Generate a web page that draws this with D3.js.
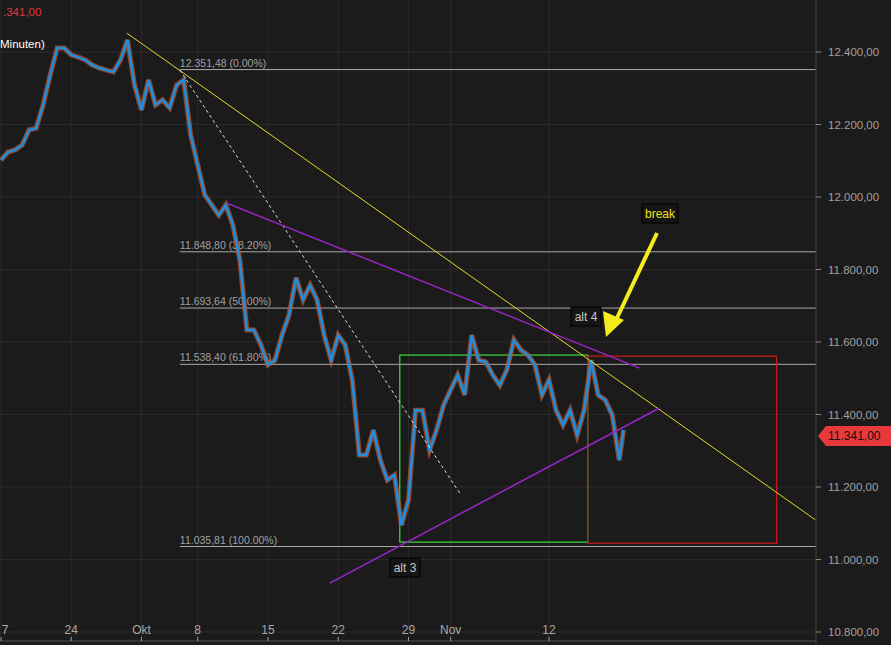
<!DOCTYPE html><html><head><meta charset="utf-8">
<script src="https://cdn.jsdelivr.net/npm/d3@7"></script>
<style>body{margin:0;background:#1c1b1b}svg{display:block}text{font-family:"Liberation Sans",Arial,sans-serif}</style>
</head><body><svg width="891" height="645"></svg>
<script>
const dayIndex=[0,0.5,1,1.5,2,2.5,3,3.5,4,4.5,5,5.5,6,6.5,7,7.5,8,8.5,9,9.5,10,10.5,11,11.5,12,12.5,13,13.5,14,14.5,15,15.5,16,16.5,17,17.5,18,18.5,19,19.5,20,20.5,21,21.5,22,22.5,23,23.5,24,24.5,25,25.5,26,26.5,27,27.5,28,28.5,29,29.5,30,30.5,31,31.5,32,32.5,33,33.5,34,34.5,35,35.5,36,36.5,37,37.5,38,38.5,39,39.5,40,40.5,41,41.5,42,42.5,43,43.5,44,44.3];
const close=[12102,12124,12130,12143,12185,12190,12254,12337,12411,12411,12392,12386,12378,12364,12356,12350,12345,12378,12433,12309,12240,12323,12254,12268,12246,12309,12323,12171,12088,12006,11978,11950,11978,11923,11826,11633,11633,11592,11537,11550,11619,11675,11777,11716,11757,11716,11619,11550,11619,11592,11495,11288,11288,11357,11274,11219,11233,11095,11164,11412,11412,11302,11357,11426,11468,11509,11454,11619,11550,11545,11509,11481,11523,11606,11578,11564,11537,11454,11495,11412,11371,11412,11343,11412,11550,11454,11440,11399,11274,11357];
const yTicks=[10800,11000,11200,11400,11600,11800,12000,12200,12400];
const xTickDays=[0,5,10,14,19,24,29,32,39];
const xTickLabels=["7","24","Okt","8","15","22","29","Nov","12"];
const fibValues=[12351.48,11848.80,11693.64,11538.40,11035.81];
const fibLabels=["12.351,48 (0.00%)","11.848,80 (38.20%)","11.693,64 (50.00%)","11.538,40 (61.80%)","11.035,81 (100.00%)"];
const fibStart=12.73;
const yellowLine=[[8.96,12452],[57.97,11109]];
const dashedLine=[[12.73,12350],[32.65,11183]];
const purpleUpper=[[16.07,11983],[45.45,11528]];
const purpleLower=[[23.40,10935],[46.87,11418]];
const greenRect=[28.38,41.75,11564,11048];
const redRect=[41.75,55.2,11561,11045];
const lastPrice=11341;

const svg=d3.select("svg");
const x=d3.scaleLinear().domain([0,39]).range([1,549]);
const y=d3.scaleLinear().domain([10800,12400]).range([632,52]);
const fmt=v=>d3.format(",.2f")(v).replace(/,/g,"#").replace(".",",").replace(/#/g,".");
const R=816;
svg.append("g").selectAll("line").data(yTicks).join("line").attr("x1",0).attr("x2",R).attr("y1",d=>y(d)).attr("y2",d=>y(d)).attr("stroke","#2a2929");
svg.append("g").selectAll("line").data(xTickDays).join("line").attr("x1",d=>x(d)).attr("x2",d=>x(d)).attr("y1",0).attr("y2",640).attr("stroke","#2a2929");
const fg=svg.append("g");
fibValues.forEach((v,i)=>{
 fg.append("line").attr("x1",x(fibStart)).attr("x2",R).attr("y1",y(v)).attr("y2",y(v)).attr("stroke","#a9a9a9").attr("stroke-width",1);
 fg.append("text").attr("x",x(fibStart)).attr("y",y(v)-3).attr("fill","#a0a0a0").attr("font-size",10.5).text(fibLabels[i]);
});
function rect(r,c){svg.append("rect").attr("x",x(r[0])).attr("width",x(r[1])-x(r[0])).attr("y",y(r[2])).attr("height",y(r[3])-y(r[2])).attr("fill","none").attr("stroke",c).attr("stroke-width",1.2);}
rect(greenRect,"#3ddc3d");rect(redRect,"#d01818");
const line=d3.line().x((d,i)=>x(dayIndex[i])).y(d=>y(d)).curve(d3.curveLinear);
svg.append("path").datum(close).attr("d",line).attr("fill","none").attr("stroke","#c2582e").attr("stroke-width",5).attr("opacity",0.7);
svg.append("path").datum(close).attr("d",line).attr("fill","none").attr("stroke","#1e8fe0").attr("stroke-width",2.5);
function seg(p,c,w,dash){const l=svg.append("line").attr("x1",x(p[0][0])).attr("y1",y(p[0][1])).attr("x2",x(p[1][0])).attr("y2",y(p[1][1])).attr("stroke",c).attr("stroke-width",w);if(dash)l.attr("stroke-dasharray",dash);}
seg(yellowLine,"#e8d82a",1);seg(dashedLine,"#e0e0e0",1,"3,3");seg(purpleUpper,"#9a25c8",1.5);seg(purpleLower,"#9a25c8",1.5);
function box(xx,yy,w,t,col){svg.append("rect").attr("x",xx).attr("y",yy).attr("width",w).attr("height",19).attr("fill","#151515").attr("stroke","#000");svg.append("text").attr("x",xx+w/2).attr("y",yy+14).attr("text-anchor","middle").attr("fill",col).attr("font-size",12).text(t);}
box(571,307,30,"alt 4","#c8c8c8");box(390,558,30,"alt 3","#c8c8c8");box(642,204,36,"break","#f0e020");
svg.append("line").attr("x1",657).attr("y1",233).attr("x2",617).attr("y2",318).attr("stroke","#f5ec1e").attr("stroke-width",4);
svg.append("path").attr("d","M606,337 L603,311 L624,320 Z").attr("fill","#f5ec1e");
svg.append("line").attr("x1",R).attr("x2",R).attr("y1",0).attr("y2",645).attr("stroke","#444");
const ya=svg.append("g");
yTicks.forEach(v=>{ya.append("line").attr("x1",R).attr("x2",R+5).attr("y1",y(v)).attr("y2",y(v)).attr("stroke","#888");
 ya.append("text").attr("x",828).attr("y",y(v)+4).attr("fill","#a0a0a0").attr("font-size",11.5).text(fmt(v));});
svg.append("line").attr("x1",0).attr("x2",R).attr("y1",641).attr("y2",641).attr("stroke","#555");
xTickDays.forEach((d,i)=>{svg.append("line").attr("x1",x(d)).attr("x2",x(d)).attr("y1",637).attr("y2",641).attr("stroke","#999");
 svg.append("text").attr("x",i===0?x(d)+4:x(d)).attr("y",634).attr("text-anchor","middle").attr("fill","#a8a8a8").attr("font-size",12).text(xTickLabels[i]);});
const ty=y(lastPrice);
svg.append("path").attr("d",`M818,${ty} L826,${ty-10} L891,${ty-10} L891,${ty+10} L826,${ty+10} Z`).attr("fill","#e83a3a");
svg.append("text").attr("x",828).attr("y",ty+4.5).attr("fill","#111").attr("font-size",12).text(fmt(lastPrice));
svg.append("text").attr("x",3).attr("y",16).attr("fill","#e03a3a").attr("font-size",11.5).text(".341,00");
svg.append("text").attr("x",0).attr("y",48).attr("fill","#ffffff").attr("font-size",11.5).text("Minuten)");
</script></body></html>
